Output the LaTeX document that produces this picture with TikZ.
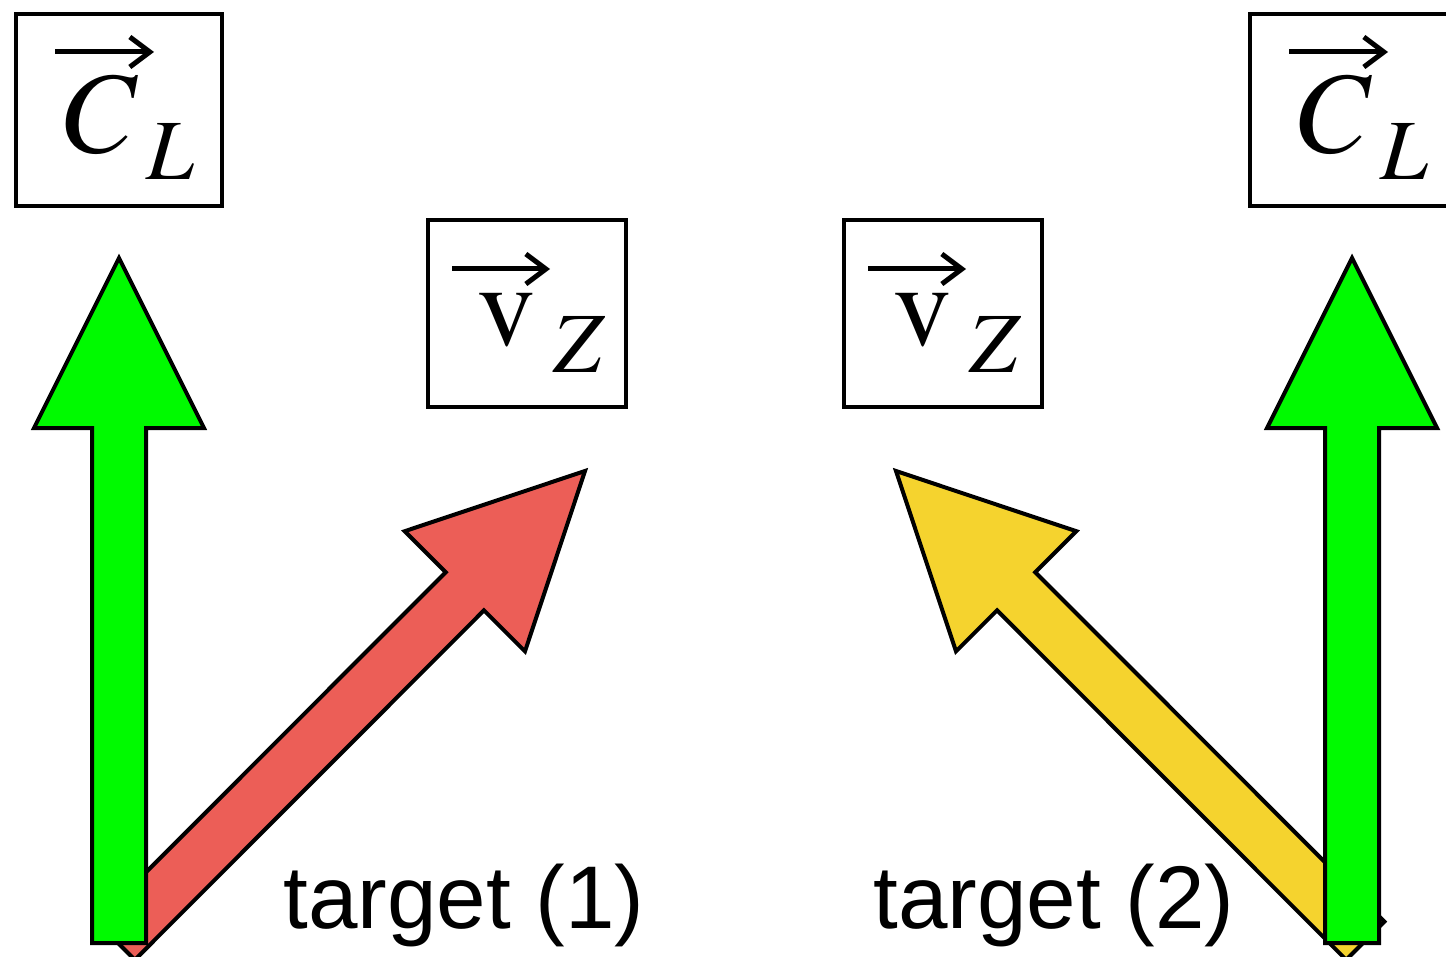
\documentclass[tikz,border=0pt]{standalone}
\usepackage{mathptmx}
\usepackage[no-math]{fontspec}
\setmainfont{Liberation Serif}
\newfontfamily\labelfont{Liberation Sans}
\usetikzlibrary{calc,arrows.meta}
\definecolor{arrowgreen}{RGB}{0,250,0}
\definecolor{arrowred}{RGB}{236,94,87}
\definecolor{arrowyellow}{RGB}{245,211,46}
% #1 name, #2 tail, #3 tip, #4 fill colour
\newcommand\blockarrow[4]{%
  \coordinate (#1base) at ($(#3)!85pt!(#2)$);
  \draw[arrowbody, fill=#4]
    ($(#2)!13.5pt!90:(#3)$) -- ($(#1base)!13.5pt!90:(#3)$) --
    ($(#1base)!42.5pt!90:(#3)$) -- (#3) --
    ($(#1base)!42.5pt!-90:(#3)$) -- ($(#1base)!13.5pt!-90:(#3)$) --
    ($(#2)!13.5pt!-90:(#3)$) -- cycle;
}
\newcommand\labCL{\makebox[103pt][l]{\hspace{24.3pt}$C$\hspace{4pt}\raisebox{-13.5pt}{$\scriptstyle L$}}}
\newcommand\labVZ{\makebox[99pt][l]{\hspace{24.5pt}$\mathrm{v}$\hspace{9pt}\raisebox{-13.5pt}{$\scriptstyle Z$}}}
\tikzset{
  arrowbody/.style={draw=black, line width=2pt, line join=miter},
  mathbox/.style={draw=black, line width=2pt, inner sep=0pt, text depth=0pt, font=\fontsize{58}{60}\selectfont},
  topbox/.style={mathbox, minimum width=103pt, minimum height=96pt, text height=43pt},
  vbox/.style={mathbox, minimum width=99pt, minimum height=93.5pt, text height=31.5pt},
  vecarrow/.style={line width=2.5pt, -{Straight Barb[length=10pt, width=15pt]}},
  tlabel/.style={inner sep=0pt, anchor=base west, font=\labelfont\fontsize{44.5}{50}\selectfont},
}
\begin{document}
\begin{tikzpicture}[x=0.5pt, y=-0.5pt]
\useasboundingbox (0,0) rectangle (1446,957);
\clip (0,0) rectangle (1446,957);
\coordinate (g1tail) at (119,943);
\coordinate (g1tip) at (119,258);
\coordinate (r1tail) at (115.75,940.75);
\coordinate (r1tip) at (585,471);
\coordinate (y1tail) at (1365.25,940.75);
\coordinate (y1tip) at (896,471);
\coordinate (g2tail) at (1352,943);
\coordinate (g2tip) at (1352,258);

\blockarrow{red}{r1tail}{r1tip}{arrowred}
\blockarrow{greenA}{g1tail}{g1tip}{arrowgreen}
\blockarrow{yellow}{y1tail}{y1tip}{arrowyellow}
\blockarrow{greenB}{g2tail}{g2tip}{arrowgreen}

\node[topbox] (cl1) at (119,110) {\labCL};
\node[topbox] (cl2) at (1353,110) {\labCL};
\node[vbox] (vz1) at (527,313.5) {\labVZ};
\node[vbox] (vz2) at (943,313.5) {\labVZ};

\foreach \b in {cl1,cl2}
  \draw[vecarrow] ($(\b.north west)+(41,40)$) -- ++(99,0);
\foreach \b in {vz1,vz2}
  \draw[vecarrow] ($(\b.north west)+(26,51)$) -- ++(98,0);

\node[tlabel] (t1) at (283,928) {target (1)};
\node[tlabel] (t2) at (873,928) {target (2)};
\end{tikzpicture}
\end{document}
